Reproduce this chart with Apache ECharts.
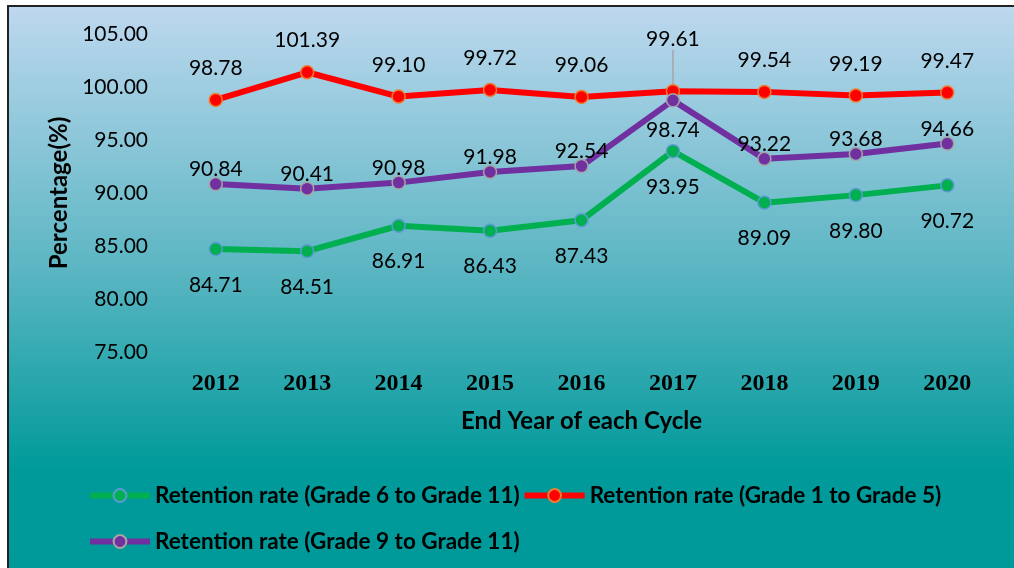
<!DOCTYPE html>
<html>
<head>
<meta charset="utf-8">
<script src="https://cdn.jsdelivr.net/npm/echarts@6/dist/echarts.min.js"></script>
<style>
html,body{margin:0;padding:0;background:#fff;}
#chart{width:1014px;height:568px;}
</style>
</head>
<body>
<div id="chart"></div>
<script>
const years = ['2012','2013','2014','2015','2016','2017','2018','2019','2020'];
const grade6to11 = [84.71, 84.51, 86.91, 86.43, 87.43, 93.95, 89.09, 89.80, 90.72];
const grade1to5 = [98.78, 101.39, 99.10, 99.72, 99.06, 99.61, 99.54, 99.19, 99.47];
const grade9to11 = [90.84, 90.41, 90.98, 91.98, 92.54, 98.74, 93.22, 93.68, 94.66];
const seriesNames = [
  'Retention rate (Grade 6 to Grade 11)',
  'Retention rate (Grade 1 to Grade 5)',
  'Retention rate (Grade 9 to Grade 11)'
];
const yTicks = { min: 75, max: 105, interval: 5 };

const chart = echarts.init(document.getElementById('chart'));
const labelFont = { fontFamily: 'Lato', fontSize: 21, color: '#000' };
const legendText = { fontFamily: 'Lato', fontWeight: 'bold', fontSize: 22.5, color: '#000' };
const fmt = p => p.value.toFixed(2);

chart.setOption({
  backgroundColor: '#ffffff',
  graphic: [{
    type: 'rect',
    z: -100,
    silent: true,
    shape: { x: 8, y: 6, width: 1020, height: 580 },
    style: {
      fill: new echarts.graphic.LinearGradient(0, 0, 0, 1, [
        { offset: 0, color: '#bed8ef' },
        { offset: 0.45, color: '#5cb6c3' },
        { offset: 0.8, color: '#009a9a' },
        { offset: 1, color: '#009999' }
      ]),
      stroke: '#222222',
      lineWidth: 2
    }
  }],
  grid: { left: 170, right: 21, top: 34, bottom: 216 },
  legend: [{
    data: [seriesNames[0], seriesNames[1]],
    left: 82, top: 479,
    itemWidth: 60, itemHeight: 16, itemGap: 2,
    lineStyle: { width: 6 },
    textStyle: legendText
  }, {
    data: [seriesNames[2]],
    left: 82, top: 525,
    itemWidth: 60, itemHeight: 16, itemGap: 2,
    lineStyle: { width: 6 },
    textStyle: legendText
  }],
  xAxis: {
    type: 'category',
    data: years,
    boundaryGap: true,
    axisLine: { show: false },
    axisTick: { show: false },
    axisLabel: { margin: 20, fontFamily: 'Liberation Serif', fontWeight: 'bold', fontSize: 24, color: '#000' },
    name: 'End Year of each Cycle',
    nameLocation: 'middle',
    nameGap: 57,
    nameTextStyle: { fontFamily: 'Lato', fontWeight: 'bold', fontSize: 24, color: '#000', verticalAlign: 'top' }
  },
  yAxis: {
    type: 'value',
    min: yTicks.min, max: yTicks.max, interval: yTicks.interval,
    splitLine: { show: false },
    axisLine: { show: false },
    axisTick: { show: false },
    axisLabel: { margin: 22, formatter: v => v.toFixed(2), fontFamily: 'Lato', fontSize: 21, color: '#000' },
    name: 'Percentage(%)',
    nameLocation: 'middle',
    nameRotate: 90,
    nameGap: 96,
    nameTextStyle: { fontFamily: 'Lato', fontWeight: 'bold', fontSize: 24, color: '#000' }
  },
  series: [{
    name: seriesNames[0],
    type: 'line',
    data: grade6to11,
    symbol: 'circle', symbolSize: 13,
    lineStyle: { color: '#00b050', width: 6 },
    itemStyle: { color: '#00b050', borderColor: '#5b9bd5', borderWidth: 1.5 },
    label: Object.assign({ show: true, position: 'bottom', distance: 18, formatter: fmt }, labelFont)
  }, {
    name: seriesNames[1],
    type: 'line',
    data: grade1to5.map((v, i) => i === 5 ? { value: v, labelLine: { show: true, lineStyle: { color: '#a6a6a6', width: 1.5 } } } : v),
    symbol: 'circle', symbolSize: 13,
    lineStyle: { color: '#ff0000', width: 6 },
    itemStyle: { color: '#ff0000', borderColor: '#ed7d31', borderWidth: 1.5 },
    label: Object.assign({ show: true, position: 'top', distance: 14, formatter: fmt }, labelFont),
    labelLine: { show: false },
    labelLayout: p => p.dataIndex === 5 ? { dy: -20 } : {}
  }, {
    name: seriesNames[2],
    type: 'line',
    data: grade9to11.map((v, i) => i === 5 ? { value: v, label: { position: 'bottom', distance: 12 } } : v),
    symbol: 'circle', symbolSize: 13,
    lineStyle: { color: '#7030a0', width: 6 },
    itemStyle: { color: '#7030a0', borderColor: '#a5a5a5', borderWidth: 1.5 },
    label: Object.assign({ show: true, position: 'top', distance: -3, formatter: fmt }, labelFont)
  }]
});
</script>
</body>
</html>
